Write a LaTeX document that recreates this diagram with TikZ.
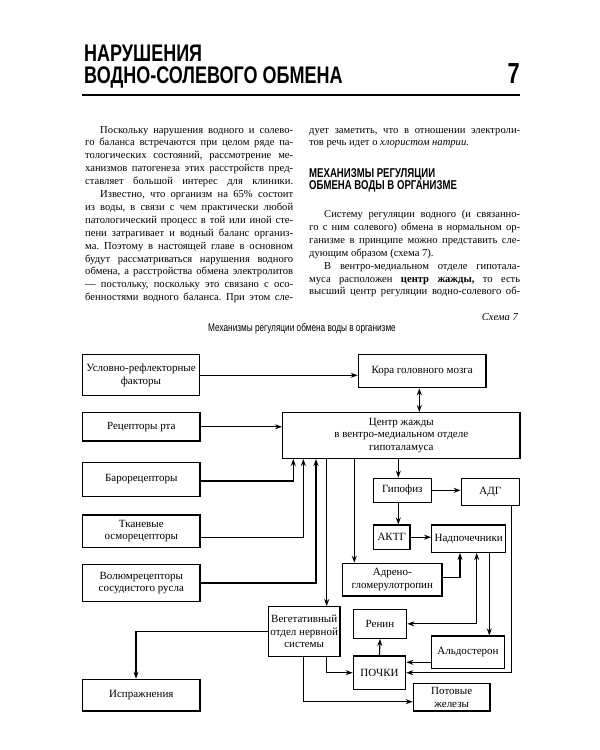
\documentclass[tikz,border=0pt]{standalone}
\usepackage{fontspec}
\setmainfont{Liberation Serif}
\newfontfamily\condf[FakeStretch=0.75]{Liberation Sans}
\usetikzlibrary{arrows.meta}
\newcommand\bodysz{\fontsize{10.6}{12.9}\selectfont}
\frenchspacing
\begin{document}
\begin{tikzpicture}[x=1pt,y=-1pt,
  tline/.style={anchor=base west, inner sep=0pt, font=\bodysz},
  box/.style={draw, line width=1.3pt, align=center, inner sep=1pt, font=\fontsize{11}{12.5}\selectfont},
  arr/.style={line width=1.1pt, -{Stealth[length=7pt,width=5pt]}},
  darr/.style={line width=1.1pt, {Stealth[length=7pt,width=5pt]}-{Stealth[length=7pt,width=5pt]}}]
\useasboundingbox (0,0) rectangle (600,750);
\fill[white] (0,0) rectangle (600,750);

% ---- title ----
\node[anchor=base west, inner sep=0pt, font=\condf\bfseries\fontsize{24}{24}\selectfont] (t1) at (84,61) {НАРУШЕНИЯ};
\node[anchor=base west, inner sep=0pt, font=\condf\bfseries\fontsize{24}{24}\selectfont] (t2) at (84,83) {ВОДНО-СОЛЕВОГО ОБМЕНА};
\node[anchor=base east, inner sep=0pt, font=\condf\bfseries\fontsize{29}{29}\selectfont] (t7) at (520,83) {7};
\coordinate (rl) at (82,95);
\coordinate (rr) at (520,95);
\draw[line width=1.5pt] (rl) -- (rr);

% ---- left column ----
\node[tline] (l1) at (85,133) {\makebox[208pt][s]{\hspace{15pt}Поскольку нарушения водного и солево-}};
\node[tline] (l2) at (85,145.9) {\makebox[208pt][s]{го баланса встречаются при целом ряде па-}};
\node[tline] (l3) at (85,158.8) {\makebox[208pt][s]{тологических состояний, рассмотрение ме-}};
\node[tline] (l4) at (85,171.7) {\makebox[208pt][s]{ханизмов патогенеза этих расстройств пред-}};
\node[tline] (l5) at (85,184.6) {\makebox[208pt][s]{ставляет большой интерес для клиники.}};
\node[tline] (l6) at (85,197.5) {\makebox[208pt][s]{\hspace{15pt}Известно, что организм на 65\% состоит}};
\node[tline] (l7) at (85,210.4) {\makebox[208pt][s]{из воды, в связи с чем практически любой}};
\node[tline] (l8) at (85,223.3) {\makebox[208pt][s]{патологический процесс в той или иной сте-}};
\node[tline] (l9) at (85,236.2) {\makebox[208pt][s]{пени затрагивает и водный баланс организ-}};
\node[tline] (l10) at (85,249.1) {\makebox[208pt][s]{ма. Поэтому в настоящей главе в основном}};
\node[tline] (l11) at (85,262) {\makebox[208pt][s]{будут рассматриваться нарушения водного}};
\node[tline] (l12) at (85,274.9) {\makebox[208pt][s]{обмена, а расстройства обмена электролитов}};
\node[tline] (l13) at (85,287.8) {\makebox[208pt][s]{— постольку, поскольку это связано с осо-}};
\node[tline] (l14) at (85,300.7) {\makebox[208pt][s]{бенностями водного баланса. При этом сле-}};

% ---- right column ----
\node[tline] (r1) at (309,133) {\makebox[211pt][s]{дует заметить, что в отношении электроли-}};
\node[tline] (r2) at (309,145.9) {тов речь идет о \textit{хлористом натрии.}};
\node[anchor=base west, inner sep=0pt, font=\condf\bfseries\fontsize{12.8}{12.8}\selectfont] (h1) at (309,177) {МЕХАНИЗМЫ РЕГУЛЯЦИИ};
\node[anchor=base west, inner sep=0pt, font=\condf\bfseries\fontsize{12.8}{12.8}\selectfont] (h2) at (309,189.5) {ОБМЕНА ВОДЫ В ОРГАНИЗМЕ};
\node[tline] (r3) at (309,217.5) {\makebox[211pt][s]{\hspace{15pt}Систему регуляции водного (и связанно-}};
\node[tline] (r4) at (309,230.4) {\makebox[211pt][s]{го с ним солевого) обмена в нормальном ор-}};
\node[tline] (r5) at (309,243.3) {\makebox[211pt][s]{ганизме в принципе можно представить сле-}};
\node[tline] (r6) at (309,256.2) {дующим образом (схема 7).};
\node[tline] (r7) at (309,269.1) {\makebox[211pt][s]{\hspace{15pt}В вентро-медиальном отделе гипотала-}};
\node[tline] (r8) at (309,282) {\makebox[211pt][s]{муса расположен \textbf{центр жажды,} то есть}};
\node[tline] (r9) at (309,294.9) {\makebox[211pt][s]{высший центр регуляции водно-солевого об-}};

\node[anchor=base east, inner sep=0pt, font=\fontsize{10.5}{12}\selectfont\itshape] (sch) at (518,320) {Схема 7};
\node[anchor=base, inner sep=0pt, font=\condf\fontsize{11}{12}\selectfont] (cap) at (302,331) {Механизмы регуляции обмена воды в организме};

% ---- diagram boxes ----
\node[box, minimum width=117pt, minimum height=41pt] (ur) at (141,375.3) {Условно-рефлекторные\\факторы};
\node[box, minimum width=127.7pt, minimum height=33pt] (kora) at (422.2,371.2) {Кора головного мозга};
\node[box, minimum width=117.3pt, minimum height=28.3pt] (rta) at (141.3,426.8) {Рецепторы рта};
\node[box, minimum width=237.3pt, minimum height=45.6pt] (center) at (401.3,435.5) {Центр жажды\\в вентро-медиальном отделе\\гипоталамуса};
\node[box, minimum width=117.3pt, minimum height=34.4pt] (baro) at (141.3,479.5) {Барорецепторы};
\node[box, minimum width=58pt, minimum height=24pt] (gip) at (402.3,490.3) {Гипофиз};
\node[box, minimum width=58pt, minimum height=27.4pt] (adg) at (490.3,492) {АДГ};
\node[box, minimum width=117.3pt, minimum height=32.3pt] (tkan) at (141.3,531.2) {Тканевые\\осморецепторы};
\node[box, minimum width=36.7pt, minimum height=24.3pt] (aktg) at (391.7,537.2) {АКТГ};
\node[box, minimum width=74pt, minimum height=27.3pt] (nadp) at (468.7,538.7) {Надпочечники};
\node[box, minimum width=99.3pt, minimum height=32.7pt] (adreno) at (392.3,579.7) {Адрено-\\гломерулотропин};
\node[box, minimum width=117.3pt, minimum height=37.4pt] (volum) at (141.3,583) {Волюмрецепторы\\сосудистого русла};
\node[box, minimum width=71.7pt, minimum height=50pt] (veg) at (304.2,631.7) {Вегетативный\\отдел нервной\\системы};
\node[box, minimum width=53.4pt, minimum height=29pt] (renin) at (380,623.8) {Ренин};
\node[box, minimum width=72.6pt, minimum height=32.3pt] (aldo) at (468,652.2) {Альдостерон};
\node[box, minimum width=52.4pt, minimum height=33.3pt] (pochki) at (379.5,672.7) {ПОЧКИ};
\node[box, minimum width=117.3pt, minimum height=31.7pt] (ispr) at (141.3,695.2) {Испражнения};
\node[box, minimum width=76.7pt, minimum height=27.7pt] (pot) at (451.7,697.2) {Потовые\\железы};

% ---- helper coordinates ----
\coordinate (xb) at (293.3,0);
\coordinate (xt) at (303.3,0);
\coordinate (xw) at (316,0);
\coordinate (xv) at (326.7,0);
\coordinate (xa) at (354.3,0);
\coordinate (xg) at (398.3,0);
\coordinate (xk) at (419.3,0);
\coordinate (xn) at (460,0);
\coordinate (xr) at (476.7,0);
\coordinate (xal) at (489.3,0);
\coordinate (xd) at (511.7,0);
\coordinate (xi) at (136,0);
\coordinate (yb) at (0,481);
\coordinate (yt) at (0,537.3);
\coordinate (yad) at (0,577.7);
\coordinate (yal) at (0,662.3);
\coordinate (yp) at (0,701.7);

% ---- connectors ----
\draw[arr] (ur.east) -- (ur.east -| kora.west);
\draw[darr] (xk |- kora.south) -- (xk |- center.north);
\draw[arr] (rta.east) -- (rta.east -| center.west);
\draw[arr] (baro.east |- yb) -| (xb |- center.south);
\draw[arr] (tkan.east |- yt) -| (xt |- center.south);
\draw[arr] (volum.east) -| (xw |- center.south);
\draw[arr] (xv |- center.south) -- (xv |- veg.north);
\draw[arr] (xa |- center.south) -- (xa |- adreno.north);
\draw[arr] (xg |- center.south) -- (xg |- gip.north);
\draw[arr] (gip.east) -- (gip.east -| adg.west);
\draw[arr] (xg |- gip.south) -- (xg |- aktg.north);
\draw[arr] (aktg.east) -- (aktg.east -| nadp.west);
\draw[arr] (adreno.east |- yad) -| (xn |- nadp.south);
\draw[darr] (renin.east) -| (xr |- nadp.south);
\draw[arr] (xal |- nadp.south) -- (xal |- aldo.north);
\draw[arr] (aldo.west |- yal) -- (pochki.east |- yal);
\draw[arr] (xd |- adg.south) |- (pochki.east);
\draw[arr] (pochki.north) -- (renin.south);
\draw[arr] (xv |- veg.south) |- (pochki.west);
\draw[arr] (xt |- veg.south) |- (pot.west |- yp);
\draw[arr] (veg.west) -| (xi |- ispr.north);
\end{tikzpicture}
\end{document}
